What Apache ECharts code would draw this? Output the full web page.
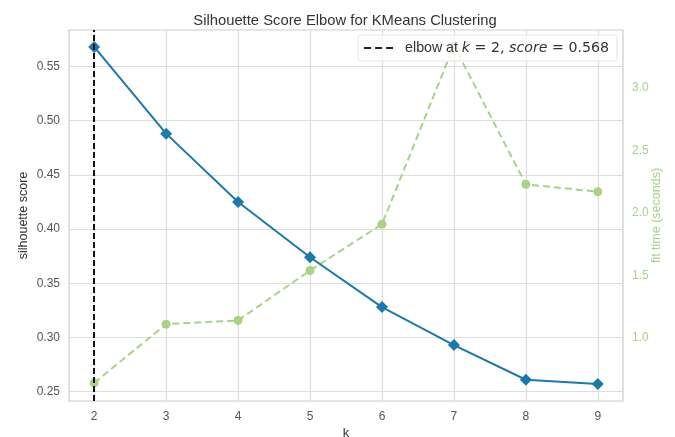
<!DOCTYPE html>
<html><head><meta charset="utf-8">
<script src="https://cdn.jsdelivr.net/npm/echarts@6/dist/echarts.min.js"></script>
<style>html,body{margin:0;padding:0;background:#fff}#c{width:675px;height:437px}</style>
</head><body><div id="c"></div>
<script>
const kValues = [2, 3, 4, 5, 6, 7, 8, 9];
const silhouetteScores = [0.568, 0.488, 0.425, 0.374, 0.328, 0.293, 0.261, 0.257];
const fitTimes = [0.64, 1.11, 1.14, 1.54, 1.91, 3.34, 2.23, 2.17];
const leftTicks = [0.25, 0.30, 0.35, 0.40, 0.45, 0.50, 0.55];
const rightTicks = [1.0, 1.5, 2.0, 2.5, 3.0];
const elbowK = 2;
const elbowScore = 0.568;

const font = 'Liberation Sans, Arial, sans-serif';
const blue = '#1a7aab';
const green = '#a9d287';

const chart = echarts.init(document.getElementById('c'), null, {renderer: 'canvas'});
chart.setOption({
  animation: false,
  backgroundColor: '#fff',
  title: {
    text: 'Silhouette Score Elbow for KMeans Clustering',
    left: 340, top: 8, textAlign: 'center',
    textStyle: {fontFamily: font, fontSize: 14.8, fontWeight: 'normal', color: '#333'}
  },
  grid: {left: 69, right: 52, top: 30, bottom: 36, outerBoundsMode: 'none', containLabel: false,
         show: true, borderColor: '#cccccc', borderWidth: 1.2, backgroundColor: '#fff'},
  legend: {
    data: [{name: 'elbow', icon: 'path://M0,0h7v2h-7z M11,0h7v2h-7z M22,0h7v2h-7z'}],
    right: 58, top: 35,
    backgroundColor: 'rgba(255,255,255,0.8)',
    borderColor: '#e6e6e6', borderWidth: 1, borderRadius: 3,
    padding: [6, 8, 6, 6],
    itemWidth: 29, itemHeight: 2, itemGap: 8,
    itemStyle: {color: '#222'},
    formatter: function () {
      return '{sp|}{s|elbow at }{i|k}{n| = ' + elbowK + ', }{i|score}{n| = ' + elbowScore.toFixed(3) + '}';
    },
    textStyle: {
      fontFamily: font, fontSize: 14.2, color: '#333',
      rich: {
        sp: {width: 7},
        s: {fontFamily: font, fontSize: 14.2, color: '#333'},
        n: {fontFamily: 'DejaVu Sans', fontSize: 14.2, color: '#333'},
        i: {fontFamily: 'DejaVu Sans', fontStyle: 'italic', fontSize: 14.2, color: '#333'}
      }
    }
  },
  xAxis: {
    type: 'value', min: 1.65, max: 9.35,
    name: 'k', nameLocation: 'middle', nameGap: 26, nameMoveOverlap: false,
    nameTextStyle: {fontFamily: font, fontSize: 13, color: '#333'},
    axisLine: {show: false},
    axisTick: {show: false, customValues: kValues},
    axisLabel: {customValues: kValues, fontFamily: font, fontSize: 12, color: '#555', margin: 10},
    splitLine: {show: true, lineStyle: {color: '#dddddd', width: 1.2}}
  },
  yAxis: [{
    type: 'value', min: 0.2414, max: 0.5836, position: 'left',
    name: 'silhouette score', nameLocation: 'middle', nameGap: 39, nameRotate: 90, nameMoveOverlap: false,
    nameTextStyle: {fontFamily: font, fontSize: 12.5, color: '#333'},
    axisLine: {show: false},
    axisTick: {show: false, customValues: leftTicks},
    axisLabel: {customValues: leftTicks, formatter: v => v.toFixed(2), fontFamily: font, fontSize: 12, color: '#555', margin: 9},
    splitLine: {show: true, lineStyle: {color: '#dddddd', width: 1.2}}
  }, {
    type: 'value', min: 0.495, max: 3.465, position: 'right',
    name: 'fit time (seconds)', nameLocation: 'middle', nameGap: 27, nameRotate: 90, nameMoveOverlap: false,
    nameTextStyle: {fontFamily: font, fontSize: 12.5, color: green},
    axisLine: {show: false},
    axisTick: {show: false, customValues: rightTicks},
    axisLabel: {customValues: rightTicks, formatter: v => v.toFixed(1), fontFamily: font, fontSize: 12, color: green, margin: 9},
    splitLine: {show: false}
  }],
  series: [{
    name: 'fit time', type: 'line', yAxisIndex: 1,
    data: kValues.map((k, i) => [k, fitTimes[i]]),
    symbol: 'circle', symbolSize: 9,
    lineStyle: {color: green, width: 2, type: [7, 4]},
    itemStyle: {color: green},
    z: 2
  }, {
    name: 'silhouette', type: 'line', yAxisIndex: 0,
    data: kValues.map((k, i) => [k, silhouetteScores[i]]),
    symbol: 'diamond', symbolSize: 12,
    lineStyle: {color: blue, width: 2},
    itemStyle: {color: blue},
    z: 3
  }, {
    name: 'elbow', type: 'line', yAxisIndex: 0, data: [],
    symbol: 'none',
    lineStyle: {color: '#111', width: 2, type: [6, 3]},
    itemStyle: {color: '#111'},
    markLine: {
      silent: true, symbol: 'none', label: {show: false},
      lineStyle: {color: '#111', width: 2, type: [6, 3]},
      data: [{xAxis: elbowK}]
    },
    z: 4
  }]
});
</script></body></html>
